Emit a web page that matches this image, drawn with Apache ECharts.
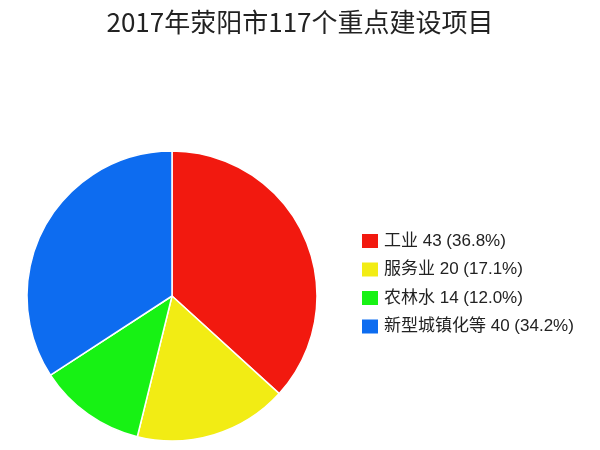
<!DOCTYPE html>
<html>
<head>
<meta charset="utf-8">
<script src="https://cdn.jsdelivr.net/npm/echarts@6/dist/echarts.min.js"></script>
<style>html,body{margin:0;padding:0;background:#fff;}#c{width:600px;height:450px;}</style>
</head>
<body>
<div id="c"></div>
<script>
var titleText = '2017年荥阳市117个重点建设项目';
var categories = ['工业', '服务业', '农林水', '新型城镇化等'];
var values = [43, 20, 14, 40];
var colors = ['#f2190f', '#f2ec14', '#17f214', '#0d6cf0'];

var total = values.reduce(function (a, b) { return a + b; }, 0);
var data = categories.map(function (n, i) {
  return { name: n, value: values[i], itemStyle: { color: colors[i] } };
});
var chart = echarts.init(document.getElementById('c'));
chart.setOption({
  animation: false,
  title: {
    text: titleText,
    left: 'center',
    top: 4,
    textStyle: { fontFamily: 'Noto Sans CJK SC', fontWeight: 'normal', fontSize: 26, color: '#222' }
  },
  legend: {
    orient: 'vertical',
    left: 360,
    top: 232,
    padding: 0,
    icon: 'rect',
    itemWidth: 18,
    itemHeight: 16,
    itemGap: 10.5,
    textStyle: { fontFamily: 'Liberation Sans, Noto Sans CJK SC', fontSize: 17, lineHeight: 16, color: '#222' },
    formatter: function (name) {
      var i = categories.indexOf(name);
      return name + ' ' + values[i] + ' (' + (values[i] / total * 100).toFixed(1) + '%)';
    },
    data: categories
  },
  series: [{
    type: 'pie',
    center: [172, 296],
    radius: 145,
    startAngle: 90,
    clockwise: true,
    label: { show: false },
    labelLine: { show: false },
    itemStyle: { borderColor: '#fff', borderWidth: 1.5 },
    data: data
  }]
});
</script>
</body>
</html>
